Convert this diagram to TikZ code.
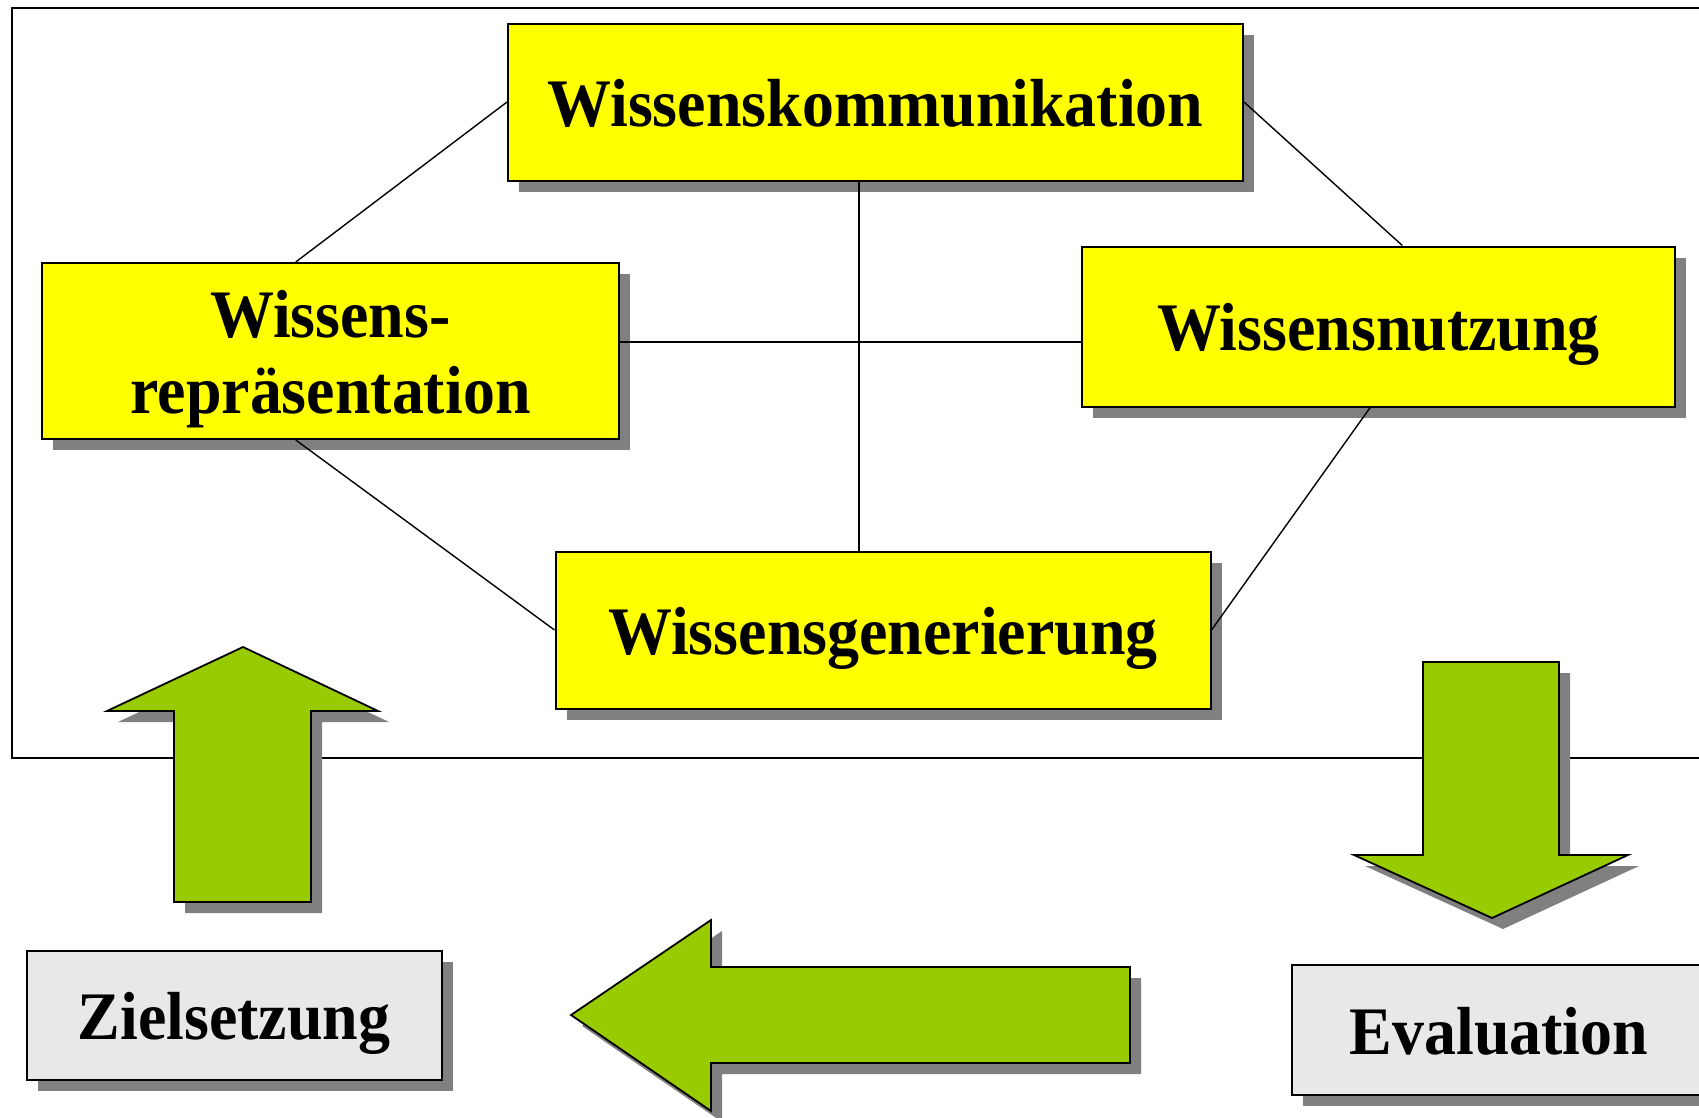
\documentclass[tikz,border=0pt]{standalone}
\usepackage{fontspec}
\setmainfont{Liberation Serif}[FakeStretch=0.94]
\usetikzlibrary{calc,shadows}
\definecolor{boxyellow}{HTML}{FFFF00}
\definecolor{arrowgreen}{HTML}{99CC00}
\definecolor{shadowgray}{HTML}{808080}
\definecolor{lightbox}{HTML}{E8E8E8}
\pgfdeclarelayer{background}
\pgfsetlayers{background,main}
\begin{document}
\begin{tikzpicture}[x=1pt,y=-1pt,
  basebox/.style={draw=black, line width=2pt, align=center, inner sep=0pt,
    font=\fontsize{68}{76}\selectfont\bfseries, text height=48pt, text depth=0pt,
    drop shadow={shadow xshift=11pt, shadow yshift=-11pt, fill=shadowgray, opacity=1}},
  ybox/.style={basebox, fill=boxyellow},
  gbox/.style={basebox, fill=lightbox},
  link/.style={draw=black, line width=1.4pt},
  frame/.style={draw=black, line width=2pt},
  bigarrow/.style={fill=arrowgreen, draw=black, line width=1.8pt, line join=miter},
  arrowshadow/.style={fill=shadowgray, shift={(11,11)}}]
\useasboundingbox (0,0) rectangle (1699,1117);
\clip (0,0) rectangle (1699,1117);

% boxes
\node[ybox, minimum width=735pt, minimum height=157pt] (WK) at (875.5,102) {Wissenskommunikation};
\node[ybox, minimum width=577pt, minimum height=176pt, text height=124pt, text depth=0pt] (WR) at (330.5,351) {Wissens-\\repräsentation};
\node[ybox, minimum width=593pt, minimum height=160pt] (WN) at (1378.5,326.5) {Wissensnutzung};
\node[ybox, minimum width=655pt, minimum height=157pt] (WG) at (883,630) {Wissensgenerierung};
\node[gbox, minimum width=415pt, minimum height=129pt] (ZS) at (234,1015) {Zielsetzung};
\node[gbox, minimum width=414pt, minimum height=130pt] (EV) at (1499,1030) {Evaluation};

\coordinate (vx) at (859,0);
\coordinate (hy) at (0,342);

\begin{pgfonlayer}{background}
  \draw[frame] (12,8) rectangle (1730,758);
\end{pgfonlayer}

% connectors
\draw[link] (WK.west) -- ($(WR.north west)!0.44!(WR.north east)$);
\draw[link] (WK.east) -- ($(WN.north west)!0.54!(WN.north east)$);
\draw[link] ($(WR.south west)!0.44!(WR.south east)$) -- (WG.west);
\draw[link] ($(WN.south west)!0.486!(WN.south east)$) -- (WG.east);
\draw[link] (WK.south -| vx) -- (WG.north -| vx);
\draw[link] (WR.east |- hy) -- (WN.west |- hy);

% up arrow
\fill[arrowshadow] (243,647) -- (378,711) -- (311,711) -- (311,902) -- (174,902) -- (174,711) -- (107,711) -- cycle;
\path[bigarrow] (243,647) -- (378,711) -- (311,711) -- (311,902) -- (174,902) -- (174,711) -- (107,711) -- cycle;
% down arrow
\fill[arrowshadow] (1423,662) -- (1559,662) -- (1559,855) -- (1628,855) -- (1492,918) -- (1354,855) -- (1423,855) -- cycle;
\path[bigarrow] (1423,662) -- (1559,662) -- (1559,855) -- (1628,855) -- (1492,918) -- (1354,855) -- (1423,855) -- cycle;
% left arrow
\fill[arrowshadow] (571,1015) -- (711,920) -- (711,967) -- (1130,967) -- (1130,1063) -- (711,1063) -- (711,1111) -- cycle;
\path[bigarrow] (571,1015) -- (711,920) -- (711,967) -- (1130,967) -- (1130,1063) -- (711,1063) -- (711,1111) -- cycle;
\end{tikzpicture}
\end{document}
